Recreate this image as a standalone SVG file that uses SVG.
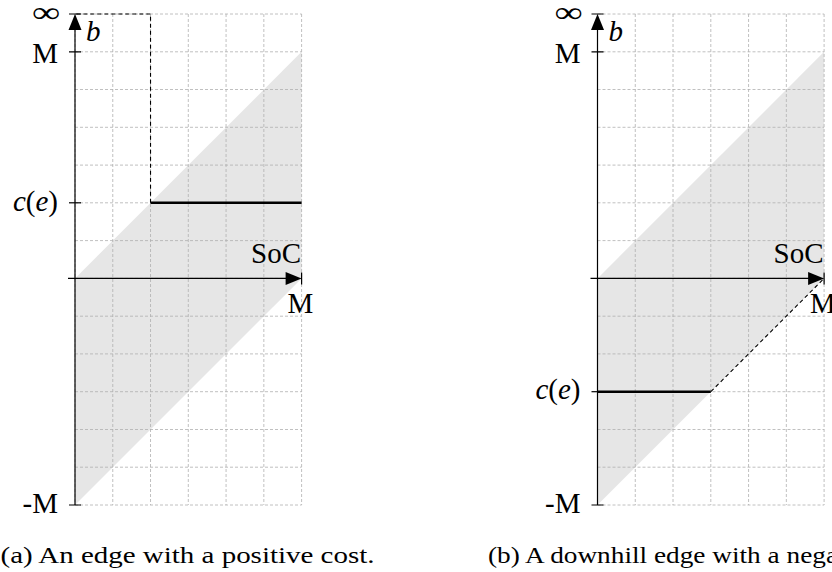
<svg xmlns="http://www.w3.org/2000/svg" xmlns:xlink="http://www.w3.org/1999/xlink" width="832" height="572" viewBox="0 0 832 572">
<style>
.grid{stroke:#b0b0b0;stroke-width:0.8;stroke-dasharray:3 2;fill:none}
.axis{stroke:#000;stroke-width:1.2;fill:none}
.tick{stroke:#000;stroke-width:1.2}
.head{fill:#000}
.thick{stroke:#000;stroke-width:2.6;fill:none}
.dash{stroke:#000;stroke-width:1.1;stroke-dasharray:4 3;fill:none}
.shade{fill:#e6e6e6}
.lbl{font-family:"Liberation Serif","DejaVu Serif",serif;font-size:29px;fill:#000}
.it{font-style:italic}
.cap{font-family:"Liberation Serif","DejaVu Serif",serif;font-size:24px;fill:#000}
</style>
<defs>
<g id="base">
<polygon class="shade" points="0,278.4 226.6,51.8 226.6,278.4 0,505"/>
<path class="grid" d="M0,14V505M37.77,14V505M75.53,14V505M113.3,14V505M151.07,14V505M188.83,14V505M226.6,14V505M0,14H226.6M0,51.8H226.6M0,89.5H226.6M0,127.3H226.6M0,165.1H226.6M0,202.8H226.6M0,240.6H226.6M0,278.4H226.6M0,316.2H226.6M0,353.9H226.6M0,391.7H226.6M0,429.5H226.6M0,467.2H226.6M0,505H226.6"/>
</g>
<g id="axes">
<line class="axis" x1="0" y1="505" x2="0" y2="28"/>
<polygon class="head" points="0,14 6.5,30 -6.5,30"/>
<line class="axis" x1="-7" y1="278.4" x2="212" y2="278.4"/>
<polygon class="head" points="226.6,278.4 210.6,271.9 210.6,284.9"/>
<path class="tick" d="M-6,14H6M-6,51.8H6M-6,505H6M226.6,272.4V284.4"/>
<text class="lbl" x="-29" y="22" text-anchor="middle" textLength="28" lengthAdjust="spacingAndGlyphs">∞</text>
<text class="lbl it" x="11" y="40.5">b</text>
<text class="lbl" x="-17" y="63" text-anchor="end">M</text>
<text class="lbl" x="-17" y="513" text-anchor="end">-M</text>
<text class="lbl" x="226" y="263" text-anchor="end">SoC</text>
<text class="lbl" x="225.5" y="313" text-anchor="middle">M</text>
</g>
</defs>
<g id="panel-a" transform="translate(75,0)">
<use xlink:href="#base"/>
<g id="connectors-a">
<line class="thick" x1="75.53" y1="202.8" x2="226.6" y2="202.8"/>
<polyline class="dash" points="75.53,202.8 75.53,14 0,14"/>
</g>
<use xlink:href="#axes"/>
<line class="tick" x1="-6" y1="202.8" x2="6" y2="202.8"/>
<text class="lbl" x="-17" y="210.5" text-anchor="end"><tspan class="it">c</tspan>(<tspan class="it">e</tspan>)</text>
</g>
<g id="panel-b" transform="translate(597.5,0)">
<use xlink:href="#base"/>
<g id="connectors-b">
<line class="thick" x1="0" y1="391.7" x2="113.3" y2="391.7"/>
<line class="dash" x1="113.3" y1="391.7" x2="226.6" y2="278.4"/>
</g>
<use xlink:href="#axes"/>
<line class="tick" x1="-6" y1="391.7" x2="6" y2="391.7"/>
<text class="lbl" x="-17" y="399.4" text-anchor="end"><tspan class="it">c</tspan>(<tspan class="it">e</tspan>)</text>
</g>
<text id="caption-a" class="cap" x="0.5" y="562.5" textLength="374" lengthAdjust="spacingAndGlyphs">(a) An edge with a positive cost.</text>
<text id="caption-b" class="cap" x="488" y="562.5" textLength="350" lengthAdjust="spacingAndGlyphs">(b) A downhill edge with a nega</text>
</svg>
